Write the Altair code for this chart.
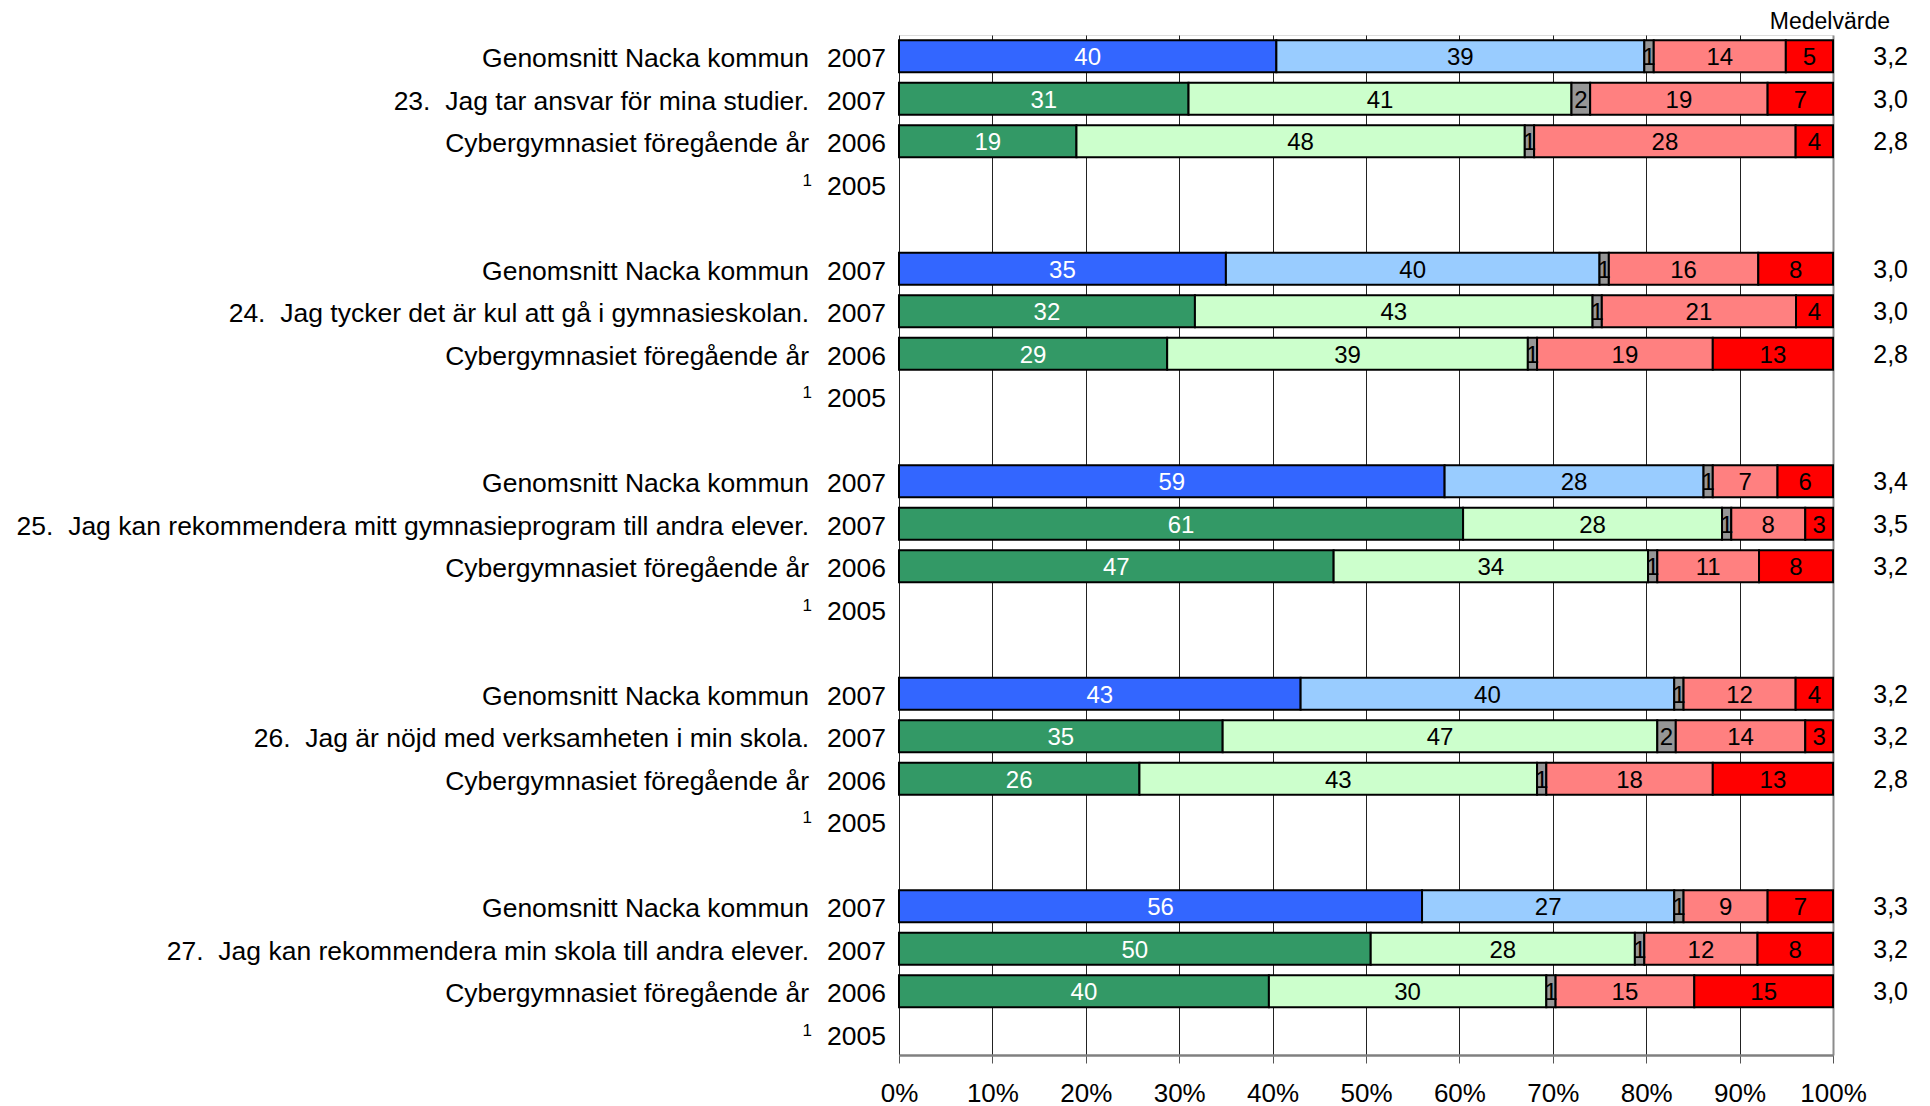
import altair as alt
import pandas as pd

# ---------------- data ----------------
questions = [
    "23.\u00a0\u00a0Jag tar ansvar för mina studier.",
    "24.\u00a0\u00a0Jag tycker det är kul att gå i gymnasieskolan.",
    "25.\u00a0\u00a0Jag kan rekommendera mitt gymnasieprogram till andra elever.",
    "26.\u00a0\u00a0Jag är nöjd med verksamheten i min skola.",
    "27.\u00a0\u00a0Jag kan rekommendera min skola till andra elever.",
]
nacka_label = "Genomsnitt Nacka kommun"
prev_label = "Cybergymnasiet föregående år"
years = ["2007", "2007", "2006", "2005"]

nacka_2007 = [[40, 39, 1, 14, 5], [35, 40, 1, 16, 8], [59, 28, 1, 7, 6], [43, 40, 1, 12, 4], [56, 27, 1, 9, 7]]
school_2007 = [[31, 41, 2, 19, 7], [32, 43, 1, 21, 4], [61, 28, 1, 8, 3], [35, 47, 2, 14, 3], [50, 28, 1, 12, 8]]
school_2006 = [[19, 48, 1, 28, 4], [29, 39, 1, 19, 13], [47, 34, 1, 11, 8], [26, 43, 1, 18, 13], [40, 30, 1, 15, 15]]
mean_nacka = ["3,2", "3,0", "3,4", "3,2", "3,3"]
mean_2007 = ["3,0", "3,0", "3,5", "3,2", "3,2"]
mean_2006 = ["2,8", "2,8", "3,2", "2,8", "3,0"]

nacka_keys = ["n1", "n2", "gray", "r1", "r2"]
school_keys = ["s1", "s2", "gray", "r1", "r2"]
color_domain = ["n1", "n2", "s1", "s2", "gray", "r1", "r2"]
color_range = ["#3366FF", "#99CCFF", "#339966", "#CCFFCC", "#969696", "#FF8080", "#FF0000"]

n_rows = 24
rows, segs = [], []
for g in range(5):
    base = g * 5
    entries = [
        (nacka_label, years[0], nacka_2007[g], mean_nacka[g], nacka_keys),
        (questions[g], years[1], school_2007[g], mean_2007[g], school_keys),
        (prev_label, years[2], school_2006[g], mean_2006[g], school_keys),
    ]
    for k, (lab, yr, vals, mean, keys) in enumerate(entries):
        r = base + k
        rows.append(dict(row=r, label=lab, year=yr, mean=mean, sup=""))
        for i, v in enumerate(vals):
            segs.append(dict(row=r, seg=i, value=v, key=keys[i],
                             tcol="white" if i == 0 else "black"))
    rows.append(dict(row=base + 3, label="", year=years[3], mean="", sup="1"))

rows_df = pd.DataFrame(rows)
segs_df = pd.DataFrame(segs)

FONT = "Liberation Sans"
W, H = 934, 1020

y_enc = alt.Y(
    "row:O",
    scale=alt.Scale(domain=list(range(n_rows)), paddingInner=0.25, paddingOuter=0.125),
    axis=alt.Axis(labels=False, title=None, bandPosition=0, tickOffset=-5.3125,
                  tickSize=6, tickColor="black", domainColor="black", domainWidth=1.5,
                  grid=False),
)
y_plain = alt.Y("row:O", scale=alt.Scale(domain=list(range(n_rows)), paddingInner=0.25,
                                          paddingOuter=0.125), axis=None)

tick_vals = [0, 0.1, 0.2, 0.3, 0.4, 0.5, 0.6, 0.7, 0.8, 0.9, 1.0]

base_segs = (
    alt.Chart(segs_df)
    .transform_joinaggregate(total="sum(value)", groupby=["row"])
    .transform_stack(stack="value", groupby=["row"], as_=["s0", "s1"],
                     sort=[alt.SortField("seg", order="ascending")])
    .transform_calculate(x0="datum.s0 / datum.total", x1="datum.s1 / datum.total",
                         xm="(datum.s0 + datum.s1) / 2 / datum.total")
)

bars = base_segs.mark_bar(stroke="black", strokeWidth=2).encode(
    x=alt.X("x0:Q", scale=alt.Scale(domain=[0, 1], nice=False),
            axis=alt.Axis(format=".0%", values=tick_vals, title=None, labelFontSize=26,
                          labelFont=FONT, labelColor="black", labelPadding=17,
                          labelFlush=False, labelOverlap=False,
                          tickSize=8, tickColor="#555555", domainColor="#808080",
                          domainWidth=2.5, grid=True,
                          gridColor={"condition": {"test": "datum.value >= 1", "value": "#8c8c8c"},
                                     "value": "#222222"},
                          gridWidth={"condition": {"test": "datum.value >= 1", "value": 2},
                                     "value": 1})),
    x2="x1:Q",
    y=y_enc,
    color=alt.Color("key:N", scale=alt.Scale(domain=color_domain, range=color_range), legend=None),
)

bar_text = base_segs.mark_text(fontSize=24, font=FONT, baseline="alphabetic", dy=9).encode(
    x="xm:Q",
    y=y_plain,
    text="value:Q",
    color=alt.Color("tcol:N", scale=None),
)

lab_text = alt.Chart(rows_df).mark_text(fontSize=26.5, font=FONT, align="right",
                                        baseline="alphabetic", dy=11, color="black").encode(
    x=alt.value(-90), y=y_plain, text="label:N")
year_text = alt.Chart(rows_df).mark_text(fontSize=26.5, font=FONT, align="right",
                                         baseline="alphabetic", dy=11, color="black").encode(
    x=alt.value(-13), y=y_plain, text="year:N")
sup_text = alt.Chart(rows_df).mark_text(fontSize=17, font=FONT, align="right",
                                        baseline="alphabetic", dy=2, color="black").encode(
    x=alt.value(-87), y=y_plain, text="sup:N")
mean_text = alt.Chart(rows_df).mark_text(fontSize=25, font=FONT, align="right",
                                         baseline="alphabetic", dy=9, color="black").encode(
    x=alt.value(W + 75), y=y_plain, text="mean:N")
header = alt.Chart(pd.DataFrame({"t": ["Medelvärde"]})).mark_text(
    fontSize=23, font=FONT, align="right", baseline="alphabetic", color="black").encode(
    x=alt.value(W + 57), y=alt.value(-6), text="t:N")

chart = (
    alt.layer(bars, bar_text, lab_text, year_text, sup_text, mean_text, header)
    .properties(width=W, height=H, autosize=alt.AutoSizeParams(type="none"),
                padding={"left": 891, "top": 27, "right": 78, "bottom": 56})
    .configure_view(stroke="#a0a0a0", strokeWidth=2)
    .configure(font=FONT, background="white")
)

chart.save("out.html", embed_options={"renderer": "svg", "actions": False})
